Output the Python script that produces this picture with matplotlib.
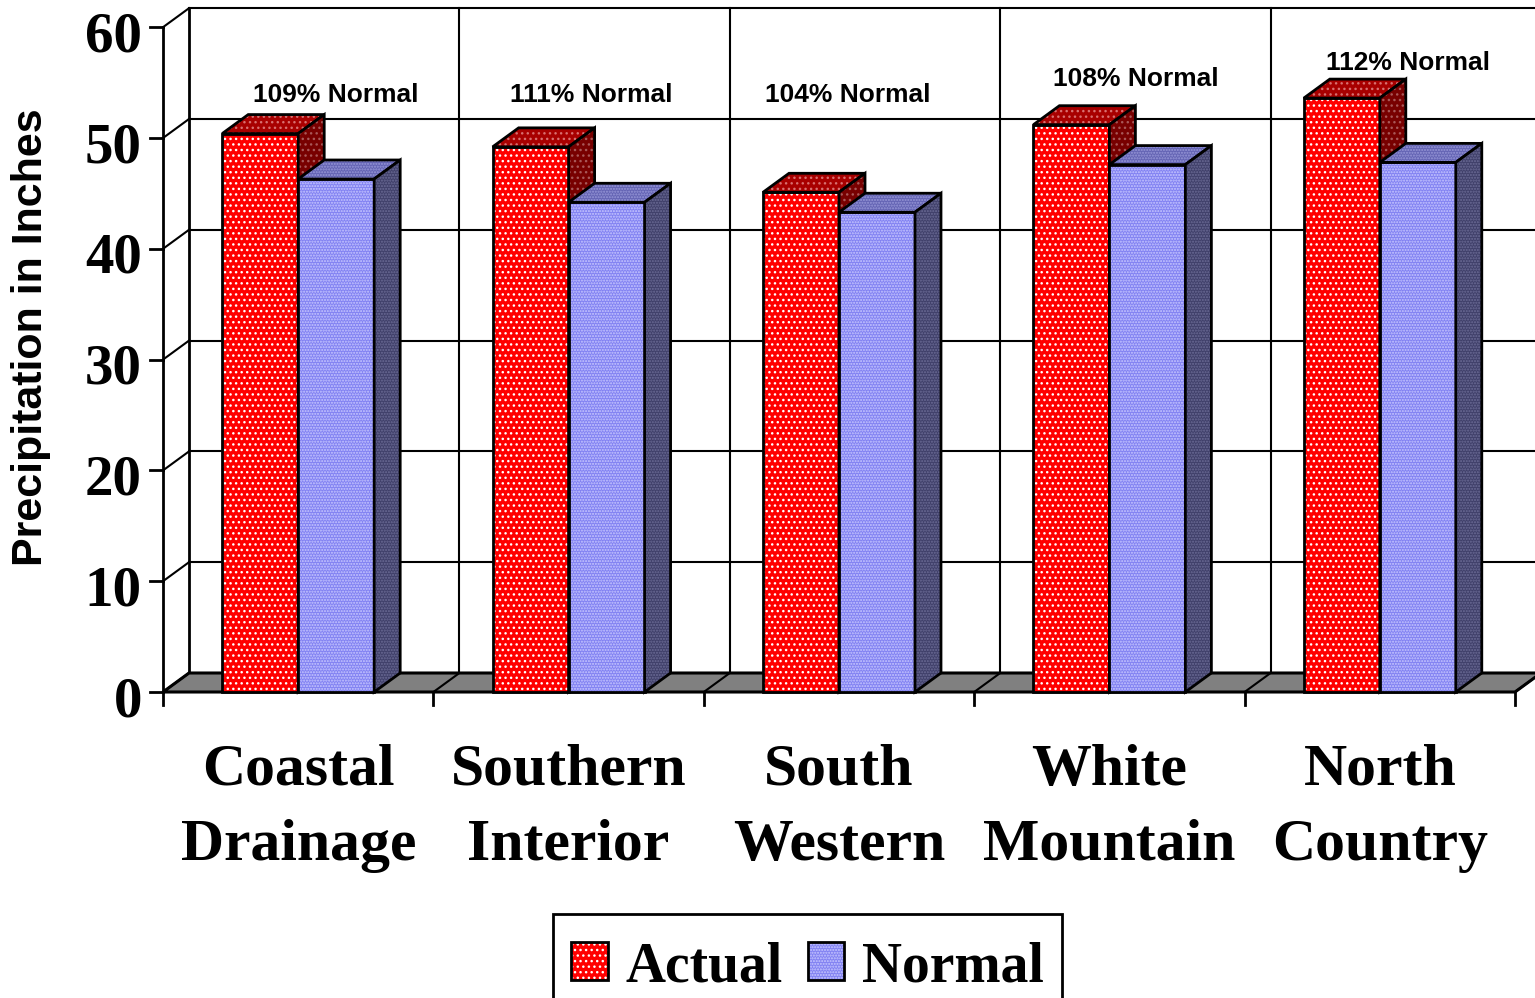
import matplotlib
matplotlib.use("Agg")
import matplotlib.pyplot as plt
from matplotlib.patches import Polygon, Rectangle

# precipitation by climate division (inches)
regions = ["Coastal\nDrainage", "Southern\nInterior", "South\nWestern",
           "White\nMountain", "North\nCountry"]
actual = [50.4, 49.2, 45.1, 51.2, 53.6]
normal = [46.3, 44.2, 43.3, 47.6, 47.8]
y_ticks = [0, 10, 20, 30, 40, 50, 60]

# placement of the "% Normal" notes (x offset in category, baseline height)
note_dx = [0.638, 0.583, 0.531, 0.597, 0.604]
note_y = [53.25, 53.25, 53.25, 54.7, 56.1]

SERIF = "Liberation Serif"
SANS = "Liberation Sans"

# depth of the fake 3-D box, in data units
DX = 0.0962
DY = 1.715
BAR_W = 0.281

plt.rcParams["hatch.linewidth"] = 1.0

fig = plt.figure(figsize=(15.35, 9.98), dpi=100)
ax = fig.add_axes([0, 0, 1, 1])
ax.set_xlim(-0.6028, 5.074)
ax.set_ylim(-27.617, 62.455)
ax.axis("off")

n = len(regions)
top = y_ticks[-1]

# back wall
ax.plot([DX, DX], [DY, top + DY], color="black", lw=2, zorder=1)
for i in range(1, n + 1):
    ax.plot([i + DX, i + DX], [DY, top + DY], color="black", lw=1.5, zorder=1)
for v in y_ticks[1:]:
    ax.plot([DX, n + DX + 0.2], [v + DY, v + DY], color="black", lw=1.5, zorder=1)
    # side wall grid
    ax.plot([0, DX], [v, v + DY], color="black", lw=1.5, zorder=1)

# floor
ax.add_patch(Polygon([(0, 0), (n, 0), (n + DX, DY), (DX, DY)], closed=True,
                     facecolor="#808080", edgecolor="black", lw=2.2, zorder=1.5))
for i in range(n + 1):
    ax.plot([i, i + DX], [0, DY], color="black", lw=1.5, zorder=1.6)

# value axis and ticks
ax.plot([0, 0], [0, top], color="black", lw=2, zorder=3)
for v in y_ticks:
    ax.plot([-0.048, 0], [v, v], color="black", lw=2, zorder=3)
    ax.text(-0.0777, v - 2.17, str(v), ha="right", va="baseline",
            fontsize=41, fontweight="bold", family=SERIF, zorder=5)
for i in range(n + 1):
    ax.plot([i, i], [0, -1.17], color="black", lw=2, zorder=3)


def face(pts, fc, dot_color, hatch, z):
    ax.add_patch(Polygon(pts, closed=True, facecolor=fc, edgecolor=dot_color,
                         hatch=hatch, lw=0, zorder=z))
    ax.add_patch(Polygon(pts, closed=True, facecolor="none", edgecolor="black",
                         lw=2.0, joinstyle="miter", zorder=z + 0.001))


def bar3d(x, h, colors, z):
    front, topc, side = colors
    w = BAR_W
    face([(x, 0), (x + w, 0), (x + w, h), (x, h)], front[0], front[1], front[2], z)
    face([(x, h), (x + w, h), (x + w + DX, h + DY), (x + DX, h + DY)],
         topc[0], topc[1], topc[2], z + 0.002)
    face([(x + w, 0), (x + w + DX, DY), (x + w + DX, h + DY), (x + w, h)],
         side[0], side[1], side[2], z + 0.004)


red = [("#ff0000", "#ffffff", "..."),
       ("#a80000", "#d87070", "..."),
       ("#780000", "#a85858", "...")]
blue = [("#8282f2", "#c8c8ff", "......"),
        ("#6464b4", "#9898d8", "......"),
        ("#40406a", "#6c6c96", "......")]

for i in range(n):
    x_a = i + 0.5 - BAR_W
    x_n = i + 0.5
    bar3d(x_a, actual[i], red, 2 + i * 0.1)
    bar3d(x_n, normal[i], blue, 2.05 + i * 0.1)
    pct = round(100 * actual[i] / normal[i])
    ax.text(i + note_dx[i], note_y[i], f"{pct}% Normal", ha="center", va="baseline",
            fontsize=19, fontweight="bold", family=SANS, zorder=5)
    lines = regions[i].split("\n")
    for line, yb in zip(lines, [-8.39, -15.16]):
        ax.text(i + 0.5, yb, line, ha="center", va="baseline",
                fontsize=43, fontweight="bold", family=SERIF, zorder=5)

ax.text(-0.488, 32.0, "Precipitation in Inches", rotation=90, ha="center", va="center",
        fontsize=31, fontweight="bold", family=SANS, zorder=5)

# legend
ax.add_patch(Rectangle((1.442, -29.0), 3.325 - 1.442, 29.0 - 20.04, facecolor="white",
                       edgecolor="black", lw=2, zorder=6))
for x0, style, label in [(1.509, red[0], "Actual"), (2.385, blue[0], "Normal")]:
    pts = [(x0, -25.99), (x0 + 0.135, -25.99), (x0 + 0.135, -22.56), (x0, -22.56)]
    ax.add_patch(Polygon(pts, closed=True, facecolor=style[0], edgecolor=style[1],
                         hatch=style[2], lw=0, zorder=6.1))
    ax.add_patch(Polygon(pts, closed=True, facecolor="none", edgecolor="black",
                         lw=2, zorder=6.2))
    ax.text(x0 + 0.2, -26.17, label, ha="left", va="baseline", fontsize=40,
            fontweight="bold", family=SERIF, zorder=6.3)

fig.savefig("out.png", dpi=100)
